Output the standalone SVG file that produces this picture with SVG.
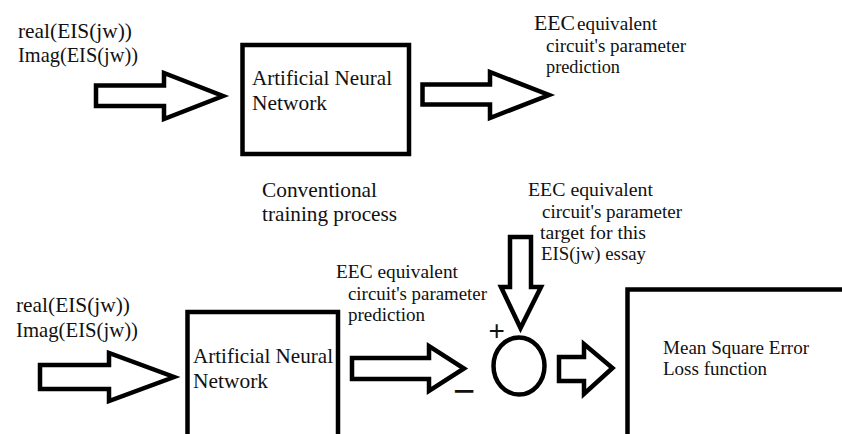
<svg xmlns="http://www.w3.org/2000/svg" width="842" height="434" viewBox="0 0 842 434">
<style>
.t21{font-size:21px}
.t19{font-size:19px}
.box{fill:#fff;stroke:#000;stroke-width:4.5}
.arr{fill:#fff;stroke:#000;stroke-width:4.5;stroke-linejoin:miter}
</style>
<rect width="842" height="434" fill="#fff"/>
<g font-family="Liberation Serif, Tinos, DejaVu Serif, Noto Serif, Times New Roman, Times, serif" fill="#111">
<g id="top-input">
<text class="t21" x="18" y="38" textLength="114" lengthAdjust="spacingAndGlyphs">real(EIS(jw))</text>
<text class="t21" x="18" y="62" textLength="120" lengthAdjust="spacingAndGlyphs">Imag(EIS(jw))</text>
</g>
<g id="top-ann">
<rect class="box" x="242.5" y="45" width="166.5" height="109"/>
<text class="t21" x="252" y="85" textLength="140" lengthAdjust="spacingAndGlyphs">Artificial Neural</text>
<text class="t21" x="252" y="110" textLength="75" lengthAdjust="spacingAndGlyphs">Network</text>
</g>
<g id="top-output">
<text x="534" y="29.5"><tspan font-size="21.5" textLength="41" lengthAdjust="spacingAndGlyphs">EEC</tspan><tspan class="t19" x="577" textLength="80" lengthAdjust="spacingAndGlyphs">equivalent</tspan></text>
<text class="t19" x="546" y="51.5" textLength="140" lengthAdjust="spacingAndGlyphs">circuit's parameter</text>
<text class="t19" x="546" y="73" textLength="74" lengthAdjust="spacingAndGlyphs">prediction</text>
</g>
<g id="caption">
<text class="t21" x="262" y="197" textLength="115" lengthAdjust="spacingAndGlyphs">Conventional</text>
<text class="t21" x="262" y="221" textLength="135" lengthAdjust="spacingAndGlyphs">training process</text>
</g>
<g id="bottom-input">
<text class="t21" x="16" y="311.5" textLength="114" lengthAdjust="spacingAndGlyphs">real(EIS(jw))</text>
<text class="t21" x="16" y="336.5" textLength="122" lengthAdjust="spacingAndGlyphs">Imag(EIS(jw))</text>
</g>
<g id="bottom-ann">
<rect class="box" x="187.5" y="312" width="150.5" height="140"/>
<text class="t21" x="193" y="363" textLength="140" lengthAdjust="spacingAndGlyphs">Artificial Neural</text>
<text class="t21" x="193" y="388" textLength="75" lengthAdjust="spacingAndGlyphs">Network</text>
</g>
<g id="bottom-prediction">
<text class="t19" x="336" y="277.5" textLength="122" lengthAdjust="spacingAndGlyphs">EEC equivalent</text>
<text class="t19" x="348" y="299.5" textLength="139" lengthAdjust="spacingAndGlyphs">circuit's parameter</text>
<text class="t19" x="348" y="321" textLength="77" lengthAdjust="spacingAndGlyphs">prediction</text>
</g>
<g id="target">
<text class="t19" x="528" y="196" textLength="125" lengthAdjust="spacingAndGlyphs">EEC equivalent</text>
<text class="t19" x="542" y="217.5" textLength="140" lengthAdjust="spacingAndGlyphs">circuit's parameter</text>
<text class="t19" x="540" y="238.5" textLength="106" lengthAdjust="spacingAndGlyphs">target for this</text>
<text class="t19" x="541" y="260" textLength="105" lengthAdjust="spacingAndGlyphs">EIS(jw) essay</text>
</g>
<g id="summing-junction">
<ellipse cx="519" cy="366" rx="25.5" ry="28.5" fill="#fff" stroke="#000" stroke-width="4.5"/>
<text font-family="Liberation Sans, Arial, sans-serif" x="488.5" y="339.5" font-size="28">+</text>
<text font-family="Liberation Sans, Arial, sans-serif" x="453" y="404" font-size="38">−</text>
</g>
<g id="mse">
<rect class="box" x="627.5" y="289.5" width="240" height="170"/>
<text class="t19" x="663" y="354" textLength="146" lengthAdjust="spacingAndGlyphs">Mean Square Error</text>
<text class="t19" x="663" y="375" textLength="104" lengthAdjust="spacingAndGlyphs">Loss function</text>
</g>
</g>
<g id="connectors">
<polygon class="arr" points="96,85.5 164,85.5 164,73 223,96 164,119 164,106 96,106"/>
<polygon class="arr" points="422.5,84.5 490,84.5 490,72 549,95 490,118 490,104.5 422.5,104.5"/>
<polygon class="arr" points="40,365 109,365 109,353 174,377 109,401 109,389 40,389"/>
<polygon class="arr" points="352,358 429,358 429,346 464,368.5 429,391 429,379 352,379"/>
<polygon class="arr" points="559,357 584,357 584,344 612.5,368 584,394 584,381 559,381"/>
<polygon class="arr" points="510,237 531,237 531,287 541,287 520.5,328 501,287 510,287"/>
</g>
</svg>
